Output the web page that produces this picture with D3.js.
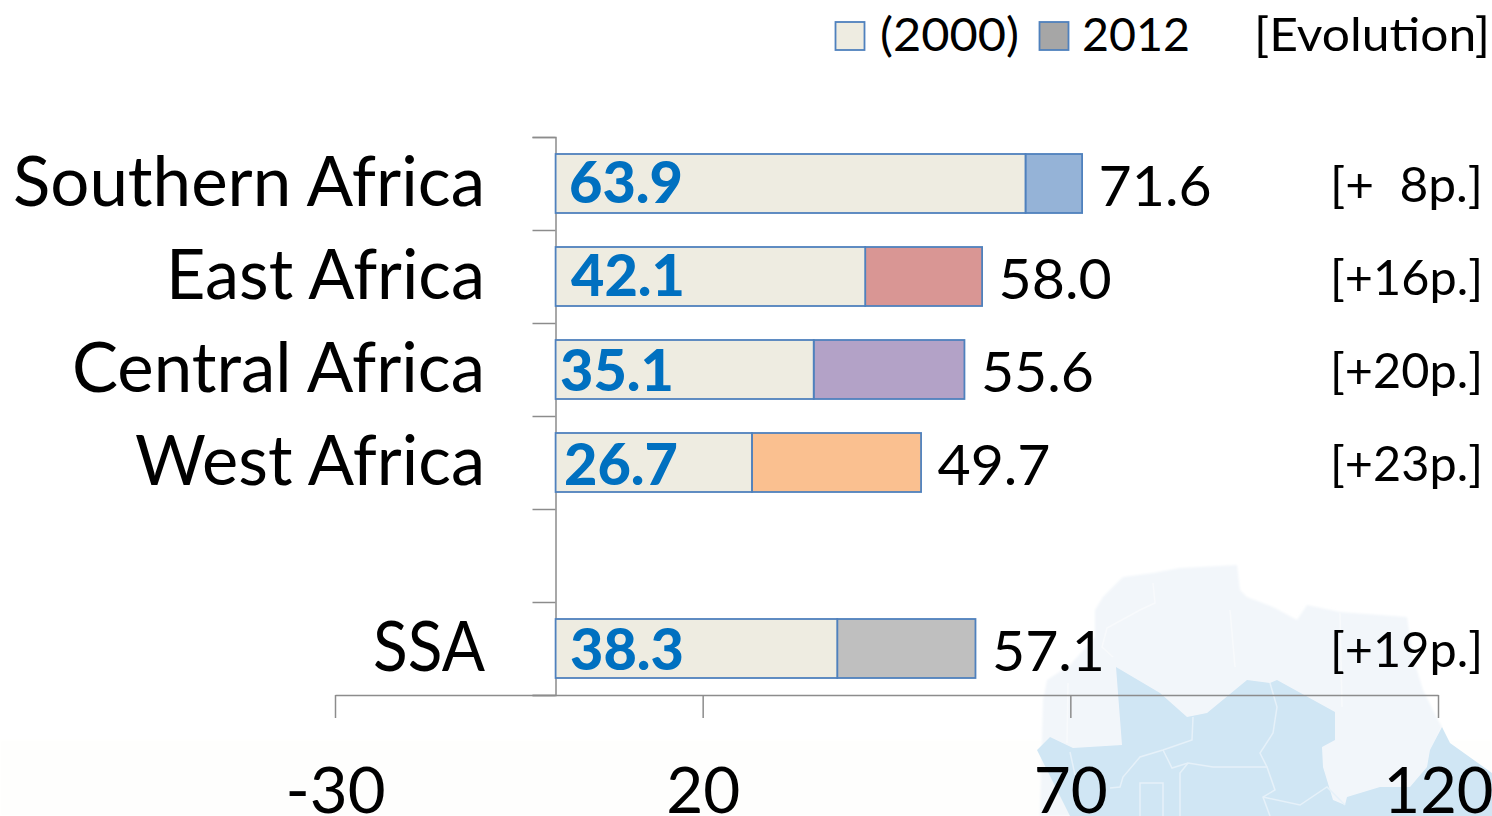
<!DOCTYPE html>
<html><head><meta charset="utf-8">
<script src="https://cdn.jsdelivr.net/npm/d3@7/dist/d3.min.js"></script>
<style>html,body{margin:0;padding:0;background:#fff;overflow:hidden}svg{display:block}text{font-family:Lato,"Open Sans",sans-serif}</style>
</head><body><svg id="c" width="1492" height="816"></svg>
<script>
// Data
const categories = ["Southern Africa","East Africa","Central Africa","West Africa","","SSA"];
const values2000 = [63.9,42.1,35.1,26.7,null,38.3];
const values2012 = [71.6,58.0,55.6,49.7,null,57.1];
const evolution = ["[+  8p.]","[+16p.]","[+20p.]","[+23p.]","","[+19p.]"];
const barColors = ["#95b3d7","#d99694","#b3a2c7","#fac090",null,"#bfbfbf"];
const xTicks = [-30,20,70,120];
const legendLabels = ["(2000)","2012"];
// Decorative backdrop outlines (map of Africa, picture-space)
const mapLight = [[1043,700],[1047,680],[1070,665],[1095,637],[1095,610],[1103,597],[1123,577],[1153,573],[1180,568],[1237,565],[1240,590],[1247,597],[1273,607],[1297,620],[1307,605],[1340,612],[1407,617],[1413,657],[1423,690],[1438,720],[1442,727],[1430,760],[1426,790],[1410,816],[1040,816]];
const mapBlue = [[1116,667],[1160,693],[1187,717],[1207,713],[1247,680],[1270,683],[1277,680],[1335,712],[1335,740],[1322,747],[1323,767],[1333,800],[1345,805],[1347,797],[1380,787],[1410,787],[1427,767],[1430,750],[1442,727],[1450,743],[1492,773],[1492,816],[1070,816],[1037,750],[1050,737],[1073,748],[1122,745]];
const blueBorders = [[[1193,717],[1192,740],[1163,750],[1140,757],[1123,777],[1120,787],[1110,788]],[[1163,750],[1172,768],[1188,763],[1213,767],[1233,767],[1267,767],[1275,790],[1263,797],[1270,816]],[[1140,816],[1140,783],[1163,783],[1163,816]],[[1180,816],[1180,773],[1188,763]],[[1270,683],[1277,707],[1273,733],[1260,753],[1267,767]],[[1070,752],[1075,775]],[[1263,797],[1300,805],[1327,787],[1345,805]]];
const lightBorders = [[[1153,583],[1155,603],[1140,610],[1107,628],[1102,647],[1113,657]],[[1230,610],[1235,667]],[[1340,613],[1342,707]],[[1068,683],[1067,743]]];

const svg = d3.select("#c");
const x = d3.scaleLinear().domain([-30,120]).range([335,1438]);
const y = d3.scaleBand().domain(d3.range(categories.length)).range([137,695]);
const barH = 59;
const barY = i => y(i) + (y.bandwidth()-barH)/2;
const BASE = "'Lato','Open Sans',sans-serif";

// background
const defs = svg.append("defs");
defs.append("filter").attr("id","soft").append("feGaussianBlur").attr("stdDeviation",0.9);
defs.append("filter").attr("id","soft2").append("feGaussianBlur").attr("stdDeviation",0.5);
svg.append("rect").attr("x",0).attr("y",740).attr("width",1492).attr("height",76).attr("fill","#fefefd").attr("filter","url(#soft)");
const line = d3.line();
svg.append("path").attr("d",line(mapLight)+"Z").attr("fill","#f2f6fa").attr("filter","url(#soft)");
svg.append("path").attr("d",line(mapBlue)+"Z").attr("fill","#d0e6f4").attr("filter","url(#soft2)");
svg.selectAll(".b").data(blueBorders).join("path").attr("d",d=>line(d)).attr("fill","none").attr("stroke","#e6f1f9").attr("stroke-width",1.5);
svg.selectAll(".l").data(lightBorders).join("path").attr("d",d=>line(d)).attr("fill","none").attr("stroke","#f8fafc").attr("stroke-width",1.5);

// fitted text helper
function label(px,py,txt,size,w,anchor,fill,weight){
  const t = svg.append("text").attr("x",px).attr("y",py).attr("font-size",size).attr("text-anchor",anchor||"start").attr("fill",fill||"#000").text(txt);
  t.style("white-space","pre");
  if(weight) t.attr("font-weight",weight);
  if(w) t.attr("textLength",w).attr("lengthAdjust","spacingAndGlyphs");
  return t;
}

// axes
const axisX = d3.axisBottom(x).tickValues(xTicks).tickSize(23).tickSizeOuter(0).tickFormat(d=>String(d));
const gx = svg.append("g").attr("transform","translate(0,695)").call(axisX);
gx.selectAll("line").attr("stroke","#8c8c8c").attr("stroke-width",1.5);
gx.select(".domain").attr("stroke","#8c8c8c").attr("stroke-width",1.5);
gx.selectAll("text").attr("font-size",64).attr("fill","#000").attr("dy",0).attr("y",118).style("font-family",BASE)
  .attr("textLength",(d,i)=>[100,74,74,110][i]).attr("lengthAdjust","spacingAndGlyphs");
const yTicks = d3.range(categories.length+1).map(i=>137+i*y.step());
const gy = svg.append("g").attr("transform","translate(555.5,0)").call(
  d3.axisLeft(d3.scaleLinear().domain([137,695]).range([137,695])).tickValues(yTicks).tickSize(23).tickFormat(""));
gy.selectAll("line").attr("stroke","#8c8c8c").attr("stroke-width",1.5);
gy.select(".domain").attr("stroke","#8c8c8c").attr("stroke-width",1.5);

// bars
const rows = d3.range(categories.length).filter(i=>values2000[i]!=null);
const stroke="#4f81bd";
svg.selectAll(".top").data(rows).join("rect").attr("x",i=>x(values2000[i])).attr("y",barY).attr("height",barH)
  .attr("width",i=>x(values2012[i])-x(values2000[i])).attr("fill",i=>barColors[i]).attr("stroke",stroke).attr("stroke-width",1.8);
svg.selectAll(".base").data(rows).join("rect").attr("x",x(0)).attr("y",barY).attr("height",barH)
  .attr("width",i=>x(values2000[i])-x(0)).attr("fill","#eeece1").attr("stroke",stroke).attr("stroke-width",1.8);

// labels
const catW=[472,319,413,350,0,112];
const inX=[569,571,560,564,0,570];
const inDy=[49,49,51,52,0,51];
rows.forEach(i=>{
  const t=barY(i);
  label(485,t+52,categories[i],69,catW[i],"end");
  label(inX[i],t+inDy[i],values2000[i].toFixed(1),57,114,"start","#0070c0",900);
  label(x(values2012[i])+16.5,t+51.5,values2012[i].toFixed(1),56,113);
  label(1483,t+48,evolution[i],49,153,"end");
});

// legend
[[835.5,"#eeece1"],[1039.5,"#a6a6a6"]].forEach(([lx,f])=>svg.append("rect").attr("x",lx).attr("y",22).attr("width",29).attr("height",28).attr("fill",f).attr("stroke",stroke).attr("stroke-width",1.8));
label(880,51,legendLabels[0],47,139);
label(1082,51,legendLabels[1],47,108);
label(1254,51,"[Evolution]",47,236);
</script></body></html>
